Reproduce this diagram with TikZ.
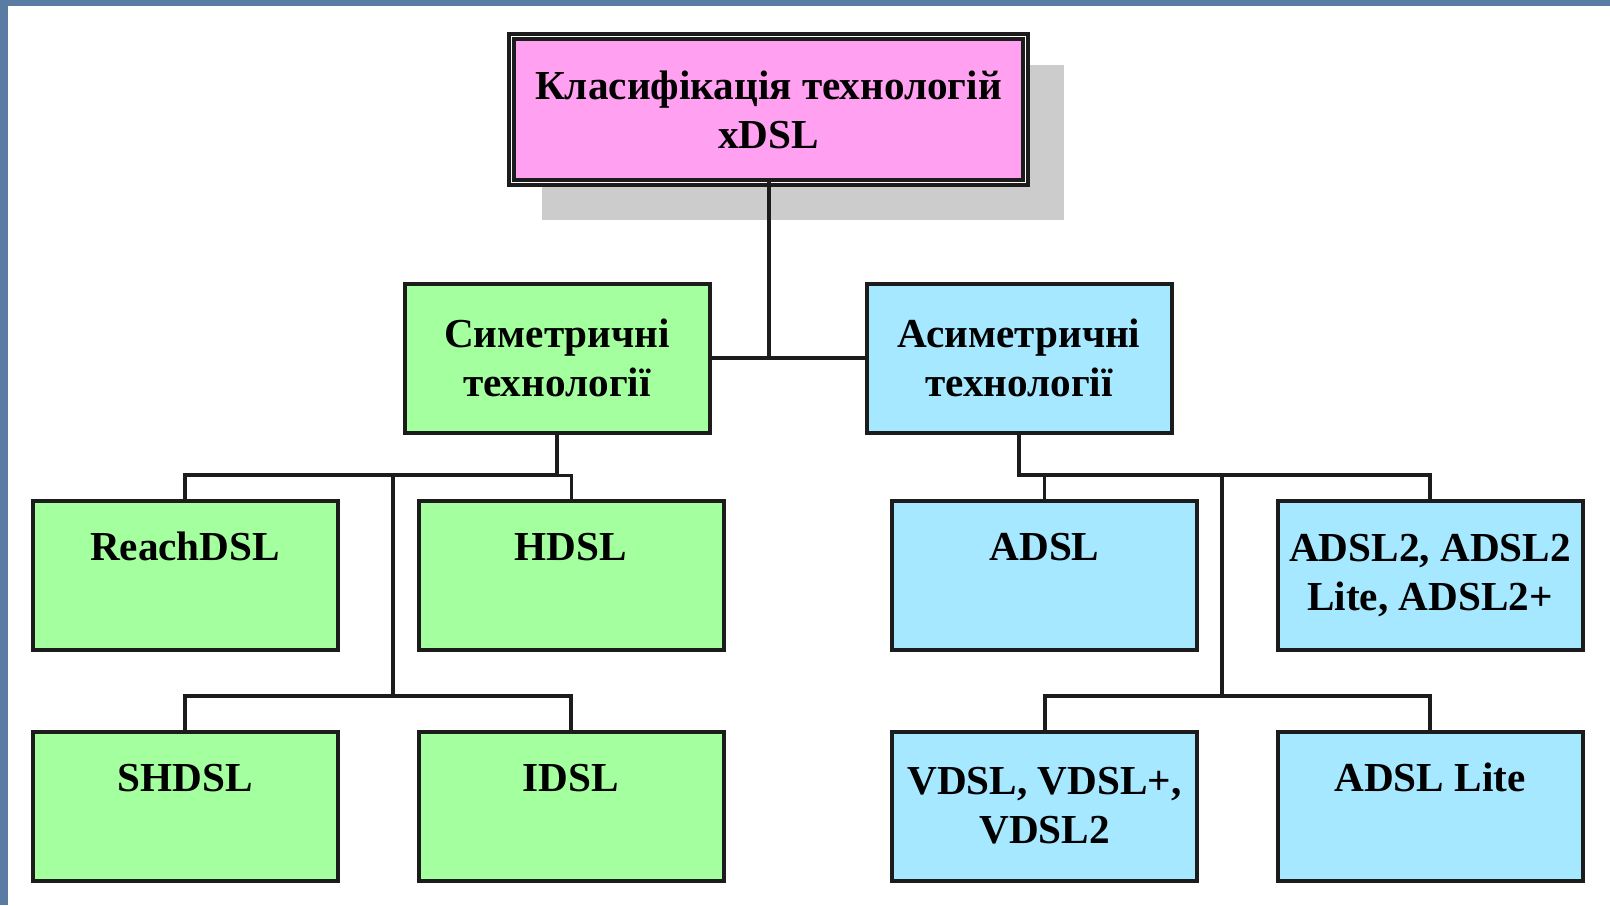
\documentclass[tikz,border=0pt]{standalone}
\usepackage{fontspec}
\setmainfont{Liberation Serif}
\usetikzlibrary{backgrounds}
\definecolor{framebl}{RGB}{90,124,164}
\definecolor{rootpink}{RGB}{255,160,240}
\definecolor{symgreen}{RGB}{164,255,158}
\definecolor{asymblue}{RGB}{166,232,255}
\definecolor{shadowgr}{RGB}{204,204,204}
\definecolor{ink}{RGB}{28,28,28}
\tikzset{
  box/.style={draw=ink, line width=2pt, rectangle, align=center,
    font=\bfseries\fontsize{20.6}{24.5}\selectfont,
    minimum width=152.5pt, minimum height=74.5pt, inner sep=0pt},
  symbox/.style={box, fill=symgreen},
  asymbox/.style={box, fill=asymblue},
  rootbox/.style={box, fill=rootpink, line width=1.7pt,
    double=white, double distance=0.8pt,
    minimum width=257pt, minimum height=73pt},
  link/.style={draw=ink, line width=2pt, line cap=rect},
  thinlink/.style={draw=ink, line width=1.5pt, line cap=rect}
}
\begin{document}
\begin{tikzpicture}[x=0.5pt, y=-0.5pt]
  \useasboundingbox (0,0) rectangle (1610,905);
  % slide frame along the top and left edges
  \fill[framebl] (0,0) rectangle (1610,6);
  \fill[framebl] (0,0) rectangle (8,905);

  % root with its offset shadow
  \node[rootbox] (root) at (768.5,109.5) {Класифікація технологій\\xDSL};
  \begin{scope}[on background layer]
    \fill[shadowgr] ([shift={(32,30)}]root.north west)
      rectangle ([shift={(37,36)}]root.south east);
  \end{scope}

  % second level
  \node[symbox]  (sym)  at (557,358)  {Симетричні\\технології};
  \node[asymbox] (asym) at (1019,358) {Асиметричні\\технології};

  % symmetric leaves
  \node[symbox] (reach) at (185,575.5) {\strut ReachDSL\\\strut};
  \node[symbox] (hdsl)  at (571,575.5) {\strut HDSL\\\strut};
  \node[symbox] (shdsl) at (185,806)   {\strut SHDSL\\\strut};
  \node[symbox] (idsl)  at (571,806)   {\strut IDSL\\\strut};

  % asymmetric leaves
  \node[asymbox] (adsl)  at (1044.5,575.5) {\strut ADSL\\\strut};
  \node[asymbox] (adsl2) at (1430,575.5)   {ADSL2, ADSL2\\Lite, ADSL2+};
  \node[asymbox] (vdsl)  at (1044.5,806)   {VDSL, VDSL+,\\VDSL2};
  \node[asymbox] (lite)  at (1430,806)     {\strut ADSL Lite\\\strut};

  % bus points
  \coordinate (sbus)  at (557,475);
  \coordinate (sdown) at (393,475);
  \coordinate (slow)  at (393,696);
  \coordinate (abus)  at (1019,475);
  \coordinate (adown) at (1222,475);
  \coordinate (alow)  at (1222,696);

  % root to second level
  \draw[link] (root.south) -- (root.south |- sym.east);
  \draw[link] (sym.east) -- (asym.west);

  % symmetric branch
  \draw[link] (sym.south) -- (sbus);
  \draw[link] (reach.north) -- (reach.north |- sbus) -- (sbus);
  \draw[thinlink] (sbus) -- (hdsl.north |- sbus) -- (hdsl.north);
  \draw[link] (sdown) -- (slow);
  \draw[link] (shdsl.north) -- (shdsl.north |- slow) -- (idsl.north |- slow) -- (idsl.north);

  % asymmetric branch
  \draw[link] (asym.south) -- (abus) -- (adsl2.north |- abus) -- (adsl2.north);
  \draw[thinlink] (adsl.north) -- (adsl.north |- abus);
  \draw[link] (adown) -- (alow);
  \draw[link] (vdsl.north) -- (vdsl.north |- alow) -- (lite.north |- alow) -- (lite.north);
\end{tikzpicture}
\end{document}
